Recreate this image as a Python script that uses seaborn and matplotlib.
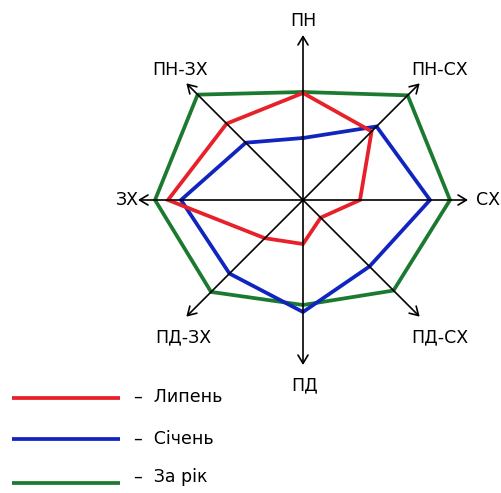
import numpy as np
import pandas as pd
import matplotlib
matplotlib.use("Agg")
import matplotlib.pyplot as plt
import seaborn as sns

# Wind rose data (relative frequency by direction)
directions = ["ПН", "ПН-СХ", "СХ", "ПД-СХ", "ПД", "ПД-ЗХ", "ЗХ", "ПН-ЗХ"]
angles_deg = [90, 45, 0, -45, -90, -135, 180, 135]
july = [10.7, 9.7, 5.7, 2.5, 4.4, 5.4, 13.5, 10.8]
january = [6.2, 10.4, 12.7, 9.4, 11.2, 10.4, 12.2, 8.1]
year = [10.8, 14.8, 14.7, 12.8, 10.5, 13.0, 14.8, 14.9]
series_names = ["Липень", "Січень", "За рік"]
series_colors = ["#e8202a", "#1024c0", "#1b7a30"]

sns.set_style("white")
plt.rcParams['font.family'] = ['DejaVu Sans']

ang = np.deg2rad(angles_deg)

# long-form table, each polygon closed by repeating the first point
rows = []
for name, vals in [("За рік", year), ("Січень", january), ("Липень", july)]:
    for i in list(range(len(vals))) + [0]:
        rows.append({"series": name, "x": vals[i] * np.cos(ang[i]),
                     "y": vals[i] * np.sin(ang[i])})
df = pd.DataFrame(rows)

fig = plt.figure(figsize=(5.01, 4.93), dpi=100)
ax = fig.add_axes([0, 0, 1, 1])
ax.set_xlim(-30.3, 19.8)
ax.set_ylim(-29.3, 20.0)
ax.axis("off")

# axes arrows
axis_len = 16.5
for a in ang:
    ax.annotate("", xy=(axis_len * np.cos(a), axis_len * np.sin(a)), xytext=(0, 0),
                arrowprops=dict(arrowstyle="->,head_length=0.5,head_width=0.3",
                                lw=1.2, color="black", mutation_scale=12,
                                shrinkA=0, shrinkB=0))

palette = dict(zip(series_names, series_colors))
sns.lineplot(data=df, x="x", y="y", hue="series", sort=False, estimator=None,
             palette=palette, legend=False, lw=2.7, ax=ax,
             solid_joinstyle="miter")

# direction labels
label_pos = [(0, 17.9), (13.7, 13.0), (18.5, 0), (13.7, -13.7),
             (0.2, -18.5), (-12.0, -13.7), (-17.6, 0), (-12.3, 13.0)]
for name, (lx, ly) in zip(directions, label_pos):
    ax.text(lx, ly, name, ha="center", va="center", fontsize=12.5, color="black")

# legend drawn below the rose
leg_y = [-19.8, -23.9, -28.3]
text_y = [-19.75, -23.85, -27.75]
for name, color, ly, ty in zip(series_names, series_colors, leg_y, text_y):
    ax.plot([-29.1, -18.3], [ly, ly], color=color, lw=2.7, solid_capstyle="butt")
    ax.text(-16.9, ty, "–  " + name, ha="left", va="center", fontsize=12.5,
            color="black")

plt.savefig("out.png", dpi=100)
